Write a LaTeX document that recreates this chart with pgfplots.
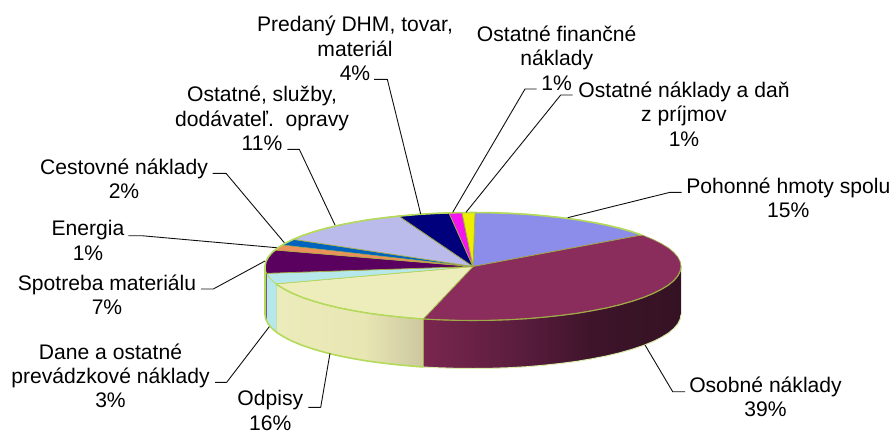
\documentclass[border=0pt]{standalone}
\usepackage{fontspec}
\setmainfont{Liberation Sans}
\usepackage{pgfplots}
\pgfplotsset{compat=1.18}
\definecolor{cBlue}{RGB}{140,140,235}
\definecolor{cMar}{RGB}{138,45,92}
\definecolor{cCream}{RGB}{237,237,188}
\definecolor{cCyan}{RGB}{182,232,235}
\definecolor{cPur}{RGB}{90,0,95}
\definecolor{cOra}{RGB}{235,145,90}
\definecolor{cBl2}{RGB}{0,100,190}
\definecolor{cLav}{RGB}{187,187,235}
\definecolor{cNavy}{RGB}{0,0,125}
\definecolor{cMag}{RGB}{245,20,240}
\definecolor{cYel}{RGB}{238,238,0}
\definecolor{rimLime}{RGB}{180,218,90}
\definecolor{rimOl}{RGB}{160,170,70}
\definecolor{ldr}{RGB}{15,15,15}
\tikzset{lbl/.style={align=center,inner sep=0pt,font=\fontsize{21.1}{24.3}\selectfont,text=black}}
\pgfdeclarehorizontalshading{marside}{100bp}{rgb(0bp)=(0.478,0.149,0.306); rgb(25bp)=(0.478,0.149,0.306); rgb(45bp)=(0.345,0.110,0.235); rgb(58bp)=(0.243,0.078,0.165); rgb(75bp)=(0.204,0.071,0.137); rgb(100bp)=(0.204,0.071,0.137)}
\pgfdeclarehorizontalshading{creside}{100bp}{rgb(0bp)=(0.922,0.922,0.737); rgb(25bp)=(0.922,0.922,0.737); rgb(55bp)=(0.910,0.902,0.698); rgb(65bp)=(0.855,0.839,0.667); rgb(75bp)=(0.804,0.784,0.627); rgb(100bp)=(0.804,0.784,0.627)}
\begin{document}
\begin{tikzpicture}
\begin{axis}[scale only axis,width=894pt,height=434pt,xmin=0,xmax=894,ymin=0,ymax=434,
  y dir=reverse,axis line style={draw=none},tick style={draw=none},xtick=\empty,ytick=\empty,clip=false,no markers]
% side faces
\addplot[shading=marside,draw=none] coordinates {(423.3,319)(436.9,319.7)(454.9,320.3)(473,320.5)(491.1,320.3)(509.1,319.7)(526.8,318.7)(544.1,317.2)(560.9,315.4)(577,313.3)(592.3,310.7)(606.7,307.9)(620.1,304.7)(632.3,301.2)(643.4,297.5)(653.1,293.5)(661.5,289.3)(668.5,285)(673.9,280.5)(677.8,275.9)(680.2,271.2)(681,266.5)(681,314.5)(680.2,319.2)(677.8,323.9)(673.9,328.5)(668.5,333)(661.5,337.3)(653.1,341.5)(643.4,345.5)(632.3,349.2)(620.1,352.7)(606.7,355.9)(592.3,358.7)(577,361.3)(560.9,363.4)(544.1,365.2)(526.8,366.7)(509.1,367.7)(491.1,368.3)(473,368.5)(454.9,368.3)(436.9,367.7)(423.3,367)} --cycle;
\addplot[shading=creside,draw=none] coordinates {(276,283.8)(277.5,285)(284.5,289.3)(292.9,293.5)(302.6,297.5)(313.7,301.2)(325.9,304.7)(339.3,307.9)(353.7,310.7)(369,313.3)(385.1,315.4)(401.9,317.2)(419.2,318.7)(423.3,319)(423.3,367)(419.2,366.7)(401.9,365.2)(385.1,363.4)(369,361.3)(353.7,358.7)(339.3,355.9)(325.9,352.7)(313.7,349.2)(302.6,345.5)(292.9,341.5)(284.5,337.3)(277.5,333)(276,331.8)} --cycle;
\addplot[fill=cCyan,draw=none] coordinates {(266.7,273.3)(268.2,275.9)(272.1,280.5)(276,283.8)(276,331.8)(272.1,328.5)(268.2,323.9)(266.7,321.3)} --cycle;
\addplot[fill=cPur!70!black,draw=none] coordinates {(265,266.5)(265.8,271.2)(266.7,273.3)(266.7,321.3)(265.8,319.2)(265,314.5)} --cycle;
\addplot[draw=rimOl,line width=0.8pt] coordinates {(423.3,319)(423.3,367)};
\addplot[draw=cCyan!70!rimLime,line width=0.8pt] coordinates {(276,283.8)(276,331.8)};
% top slices
\pgfplotsset{slice/.style={draw=rimOl,line width=0.7pt,line join=round}}
\addplot[slice,fill=cBlue] coordinates {(473,266.5)(475,212.5)(491.1,212.7)(509.1,213.3)(526.8,214.3)(544.1,215.8)(560.9,217.6)(577,219.7)(592.3,222.3)(606.7,225.1)(620.1,228.3)(632.3,231.8)(641.7,235)} --cycle;
\addplot[slice,fill=cMar] coordinates {(473,266.5)(641.7,235)(643.4,235.5)(653.1,239.5)(661.5,243.7)(668.5,248)(673.9,252.5)(677.8,257.1)(680.2,261.8)(681,266.5)(680.2,271.2)(677.8,275.9)(673.9,280.5)(668.5,285)(661.5,289.3)(653.1,293.5)(643.4,297.5)(632.3,301.2)(620.1,304.7)(606.7,307.9)(592.3,310.7)(577,313.3)(560.9,315.4)(544.1,317.2)(526.8,318.7)(509.1,319.7)(491.1,320.3)(473,320.5)(454.9,320.3)(436.9,319.7)(423.3,319)} --cycle;
\addplot[slice,fill=cCream] coordinates {(473,266.5)(423.3,319)(419.2,318.7)(401.9,317.2)(385.1,315.4)(369,313.3)(353.7,310.7)(339.3,307.9)(325.9,304.7)(313.7,301.2)(302.6,297.5)(292.9,293.5)(284.5,289.3)(277.5,285)(276,283.8)} --cycle;
\addplot[slice,draw=rimLime,fill=cCyan] coordinates {(473,266.5)(276,283.8)(272.1,280.5)(268.2,275.9)(266.7,273.3)} --cycle;
\addplot[slice,fill=cPur] coordinates {(473,266.5)(266.7,273.3)(265.8,271.2)(265,266.5)(265.8,261.8)(268.2,257.1)(272.1,252.5)(275,250)} --cycle;
\addplot[slice,line width=0.4pt,fill=cOra] coordinates {(473,266.5)(275,250)(277.5,248)(283,245)} --cycle;
\addplot[slice,line width=0.4pt,fill=cBl2] coordinates {(473,266.5)(283,245)(284.5,243.7)(294,239.5)} --cycle;
\addplot[slice,fill=cLav] coordinates {(473,266.5)(294,239.5)(302.6,235.5)(313.7,231.8)(325.9,228.3)(339.3,225.1)(353.7,222.3)(369,219.7)(385.1,217.6)(398.7,216)} --cycle;
\addplot[slice,fill=cNavy] coordinates {(473,266.5)(398.7,216)(401.9,215.8)(419.2,214.3)(436.9,213.3)(449,212.9)} --cycle;
\addplot[slice,fill=cMag] coordinates {(473,266.5)(449,212.9)(454.9,212.7)(462,212.5)} --cycle;
\addplot[slice,fill=cYel] coordinates {(473,266.5)(462,212.5)(473,212.5)(475,212.5)} --cycle;
% rims
\addplot[draw=rimLime,line width=1.6pt,line join=round] coordinates {(641.7,235)(632.3,231.8)(620.1,228.3)(606.7,225.1)(592.3,222.3)(577,219.7)(560.9,217.6)(544.1,215.8)(526.8,214.3)(509.1,213.3)(491.1,212.7)(473,212.5)(454.9,212.7)(436.9,213.3)(419.2,214.3)(401.9,215.8)(385.1,217.6)(369,219.7)(353.7,222.3)(339.3,225.1)(325.9,228.3)(313.7,231.8)(302.6,235.5)(292.9,239.5)(284.5,243.7)(277.5,248)(272.1,252.5)(268.2,257.1)(265.8,261.8)(265,266.5)(265,314.5)(265.8,319.2)(268.2,323.9)(272.1,328.5)(277.5,333)(284.5,337.3)(292.9,341.5)(302.6,345.5)(313.7,349.2)(325.9,352.7)(339.3,355.9)(353.7,358.7)(369,361.3)(385.1,363.4)(401.9,365.2)(419.2,366.7)(423.3,367)};
\addplot[draw=rimLime,line width=1.5pt,line join=round] coordinates {(276,283.8)(277.5,285)(284.5,289.3)(292.9,293.5)(302.6,297.5)(313.7,301.2)(325.9,304.7)(339.3,307.9)(353.7,310.7)(369,313.3)(385.1,315.4)(401.9,317.2)(419.2,318.7)(423.3,319)};
\addplot[draw=rimOl,line width=1.1pt,line join=round] coordinates {(423.3,319)(436.9,319.7)(454.9,320.3)(473,320.5)(491.1,320.3)(509.1,319.7)(526.8,318.7)(544.1,317.2)(560.9,315.4)(577,313.3)(592.3,310.7)(606.7,307.9)(620.1,304.7)(632.3,301.2)(643.4,297.5)(653.1,293.5)(661.5,289.3)(668.5,285)(673.9,280.5)(677.8,275.9)(680.2,271.2)(681,266.5)};
\addplot[draw=rimLime!50!white,line width=1pt,line join=round] coordinates {(423.3,367)(436.9,367.7)(454.9,368.3)(473,368.5)(491.1,368.3)(509.1,367.7)(526.8,366.7)(544.1,365.2)(560.9,363.4)(577,361.3)(592.3,358.7)(606.7,355.9)(620.1,352.7)(632.3,349.2)(643.4,345.5)(653.1,341.5)(661.5,337.3)(668.5,333)(673.9,328.5)(677.8,323.9)(680.2,319.2)(681,314.5)};
% leaders
\pgfplotsset{lead/.style={draw=ldr,line width=0.9pt,line join=round}}
\addplot[lead] coordinates {(212.7,173.3)(226,173.3)(284.3,242.7)};
\addplot[lead] coordinates {(128.3,235.7)(141.7,235.7)(276.7,247.7)};
\addplot[lead] coordinates {(201,289)(213.3,289)(265,261)};
\addplot[lead] coordinates {(215,382.3)(226.7,382.3)(269.3,326.7)};
\addplot[lead] coordinates {(308.3,407.3)(320.7,407.3)(330,353.3)};
\addplot[lead] coordinates {(374,79.3)(387.3,79.3)(420.7,214)};
\addplot[lead] coordinates {(287.3,149.3)(299.3,149.3)(335,225)};
\addplot[lead] coordinates {(536.7,89)(525,89)(452.7,212.3)};
\addplot[lead] coordinates {(572.7,95)(560.7,95)(466,212.3)};
\addplot[lead] coordinates {(681.7,192.3)(670,192.3)(567.7,217.7)};
\addplot[lead] coordinates {(685,391.7)(672.7,391.7)(645,345)};
% labels
\node[lbl] at (axis cs:355,48.3) {Predaný DHM, tovar,\\materiál\\4\%};
\node[lbl] at (axis cs:262,118.5) {Ostatné, služby,\\dodávateľ.\ \ opravy\\11\%};
\node[lbl] at (axis cs:556.7,58) {Ostatné finančné\\náklady\\1\%};
\node[lbl] at (axis cs:684,114) {Ostatné náklady a daň\\z príjmov\\1\%};
\node[lbl] at (axis cs:788.3,198) {Pohonné hmoty spolu\\15\%};
\node[lbl] at (axis cs:765.5,397) {Osobné náklady\\39\%};
\node[lbl] at (axis cs:124,179) {Cestovné náklady\\2\%};
\node[lbl] at (axis cs:88,240.5) {Energia\\1\%};
\node[lbl] at (axis cs:107,294.5) {Spotreba materiálu\\7\%};
\node[lbl] at (axis cs:110.5,376) {Dane a ostatné\\prevádzkové náklady\\3\%};
\node[lbl] at (axis cs:270.3,410.5) {Odpisy\\16\%};
\end{axis}
\end{tikzpicture}
\end{document}
